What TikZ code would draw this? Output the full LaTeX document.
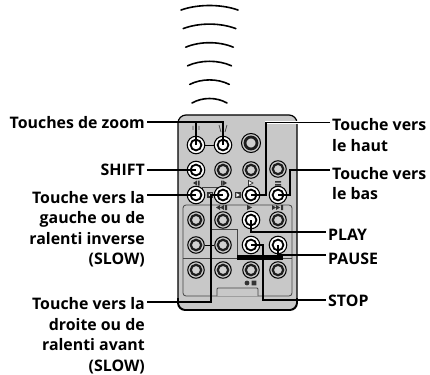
\documentclass[tikz,border=0pt]{standalone}
\usepackage{fontspec}
\setmainfont{Open Sans}
\usepackage{xcolor}
\usetikzlibrary{calc}
\definecolor{bodyc}{HTML}{C8C8C8}
\definecolor{ringc}{HTML}{1E1E1E}
\definecolor{markc}{HTML}{333333}
\definecolor{linec}{HTML}{444444}
\tikzset{
  lead/.style={line width=1.4pt,black,preaction={draw=white,line width=2.6pt}},
  lbl/.style={font=\fontsize{15.9}{20.5}\selectfont\bfseries,inner xsep=2pt,inner ysep=0pt},
  lblr/.style={lbl,align=right,anchor=north east},
  lbll/.style={lbl,align=left,anchor=north west},
  btnout/.style={circle,inner sep=0pt,minimum size=16.5pt,draw=black,line width=1pt,fill=bodyc},
  btnhi/.style={circle,inner sep=0pt,minimum size=17.5pt,draw=black,line width=1.1pt,fill=white}
}
\newcommand{\btn}[3]{\node[btnout] (#1) at (#2,#3) {};
  \draw[ringc,line width=2.2pt,fill=bodyc!85!white] (#1) circle (5.2pt);}
\newcommand{\btnh}[3]{\node[btnhi] (#1) at (#2,#3) {};
  \draw[black,line width=1.8pt,fill=white] (#1) circle (5.4pt);}
\begin{document}
\begin{tikzpicture}[x=1pt,y=-1pt]
\useasboundingbox (0,0) rectangle (430,374);
% waves
\foreach \i/\hw in {0/28.5,1/26.3,2/23.8,3/22,4/19.8,5/17.5}
  \draw[line width=1.6pt,line cap=round] ({209.5-\hw},{10+\i*18.6}) .. controls ({209.5-\hw*0.4},{4+\i*18.6}) and ({209.5+\hw*0.4},{4+\i*18.6}) .. ({209.5+\hw},{10+\i*18.6});
% remote
\draw[line width=1.2pt,fill=bodyc,rounded corners=8pt] (178,115) rectangle (297,310);
\draw[line width=1.8pt,rounded corners=7pt] (178,298) -- (178,310) -- (297,310) -- (297,298);
\draw[linec,line width=.8pt,rounded corners=3pt] (183,296) -- (183,205) -- (292,205) -- (292,296) -- cycle;
\draw[linec,line width=.8pt] (183,258) -- (292,258);
\draw[linec,line width=1pt] (212,229) -- (237,229) -- (237,255);
\draw[linec,line width=.8pt] (202,191) -- (202,187) -- (218,187) -- (218,191);
\draw[linec,line width=.8pt,fill=bodyc] (217,296) -- (217,290) [rounded corners=1pt] -- (217,288) -- (258,288) -- (258,296);
\fill[black] (237,255) rectangle (283,259.5);
% buttons
\node[circle,inner sep=0pt,minimum size=19pt,draw=black,line width=1pt,fill=bodyc] (bbig) at (251,143) {};
\draw[ringc,line width=2.8pt,fill=bodyc!85!white] (bbig) circle (6pt);
\btnh{bzl}{196}{145}
\btnh{bzr}{223}{145}
\btnh{bshift}{196}{170}
\btn{bs}{223}{170}
\btn{bt}{251}{170}
\btn{bu}{278}{169}
\btnh{bleft}{196}{195}
\btnh{bright}{223}{195}
\btnh{bup}{251}{195}
\btnh{bdown}{278}{195}
\btn{bd}{196}{220}
\btn{be}{223}{220}
\btnh{bplay}{251}{220}
\btn{bf}{278}{220}
\btn{bg}{196}{245}
\btn{bh}{223}{245}
\btnh{bstop}{251}{245}
\btnh{bpause}{278}{245}
\btn{bi}{196}{270}
\btn{bj}{223}{270}
\btn{bk}{251}{270}
\btn{bl}{278}{270}
\draw[line width=.8pt] (bzl) -- (bzr);
\draw[line width=.8pt] (bg.east) -- (bh.west);
% small marks
\fill[markc] (193,183) -- (197,180.5) -- (197,185.5) -- cycle (198,180.5) rectangle (199.5,185.5);
\fill[markc] (221,180.5) rectangle (222.5,185.5) (223,180.5) -- (227,183) -- (223,185.5) -- cycle;
\draw[markc,line width=.7pt,fill=white] (248.5,180.5) -- (253,183) -- (248.5,185.5) -- cycle;
\fill[markc] (275,181) rectangle (281,182.5) (275,184) rectangle (281,185.5);
\fill[markc] (216,207.5) -- (220,205) -- (220,210) -- cycle (220,207.5) -- (224,205) -- (224,210) -- cycle (225,205) rectangle (227,210);
\fill[markc] (247,205) -- (252,207.5) -- (247,210) -- cycle;
\fill[markc] (272,205) -- (276,207.5) -- (272,210) -- cycle (276,205) -- (280,207.5) -- (276,210) -- cycle (281,205) rectangle (283,210);
\fill[markc] (235,192) rectangle (241,198);
\fill[white] (236.3,193) -- (239.7,195) -- (236.3,197) -- cycle;
\fill[markc] (207,192) rectangle (213,198);
\fill[white] (211.7,193) -- (208.3,195) -- (211.7,197) -- cycle;
\fill[markc] (247,283) circle (2.4pt) (251.5,280.6) rectangle (256.3,285.4);
\draw[linec,line width=.7pt] (193,126) -- (193,130) (199,126) -- (199,130) (219,125) -- (221,132) (227,125) -- (225,132);
% labels
\node[lblr] (lzoom) at (147,113.6) {\strut Touches de zoom};
\node[lblr] (lshift) at (147,161.4) {\strut SHIFT};
\node[lblr] (lleft) at (147,188.6) {\strut Touche vers la\\gauche ou de\\ralenti inverse\\(SLOW)};
\node[lblr] (lright) at (147,295.2) {\strut Touche vers la\\droite ou de\\ralenti avant\\(SLOW)};
\node[lbll] (lup) at (330,116.4) {\strut Touche vers\\le haut};
\node[lbll] (ldown) at (330,164.6) {\strut Touche vers\\le bas};
\node[lbll] (lplay) at (326,225.6) {\strut PLAY};
\node[lbll] (lpause) at (326,249.6) {\strut PAUSE};
\node[lbll] (lstop) at (326,291.6) {\strut STOP};
% leaders
\draw[lead] ([yshift=-8.4pt]lzoom.north east) -| (bzl.center);
\draw[lead] ([yshift=-8.4pt]lzoom.north east) -| (bzr.center);
\draw[lead] (lshift.north east |- bshift) -- (bshift.center);
\draw[lead] (lleft.north east |- bleft) -- (bleft.center);
\draw[lead] ([yshift=-6.8pt]lright.north east) -| (211,195) -- (bright.center);
\draw[lead] ([yshift=-6.4pt]lup.north west) -| (266,195) -- (bup.center);
\draw[lead] ([yshift=-5.4pt]ldown.north west) -| (290,195) -- (bdown.center);
\draw[lead] (bplay.center) |- ([yshift=-6.4pt]lplay.north west);
\draw[lead] (bpause.center) |- ([yshift=-5.4pt]lpause.north west);
\draw[lead] (bstop.center) -- (263,245) |- ([yshift=-8.4pt]lstop.north west);
\end{tikzpicture}
\end{document}
